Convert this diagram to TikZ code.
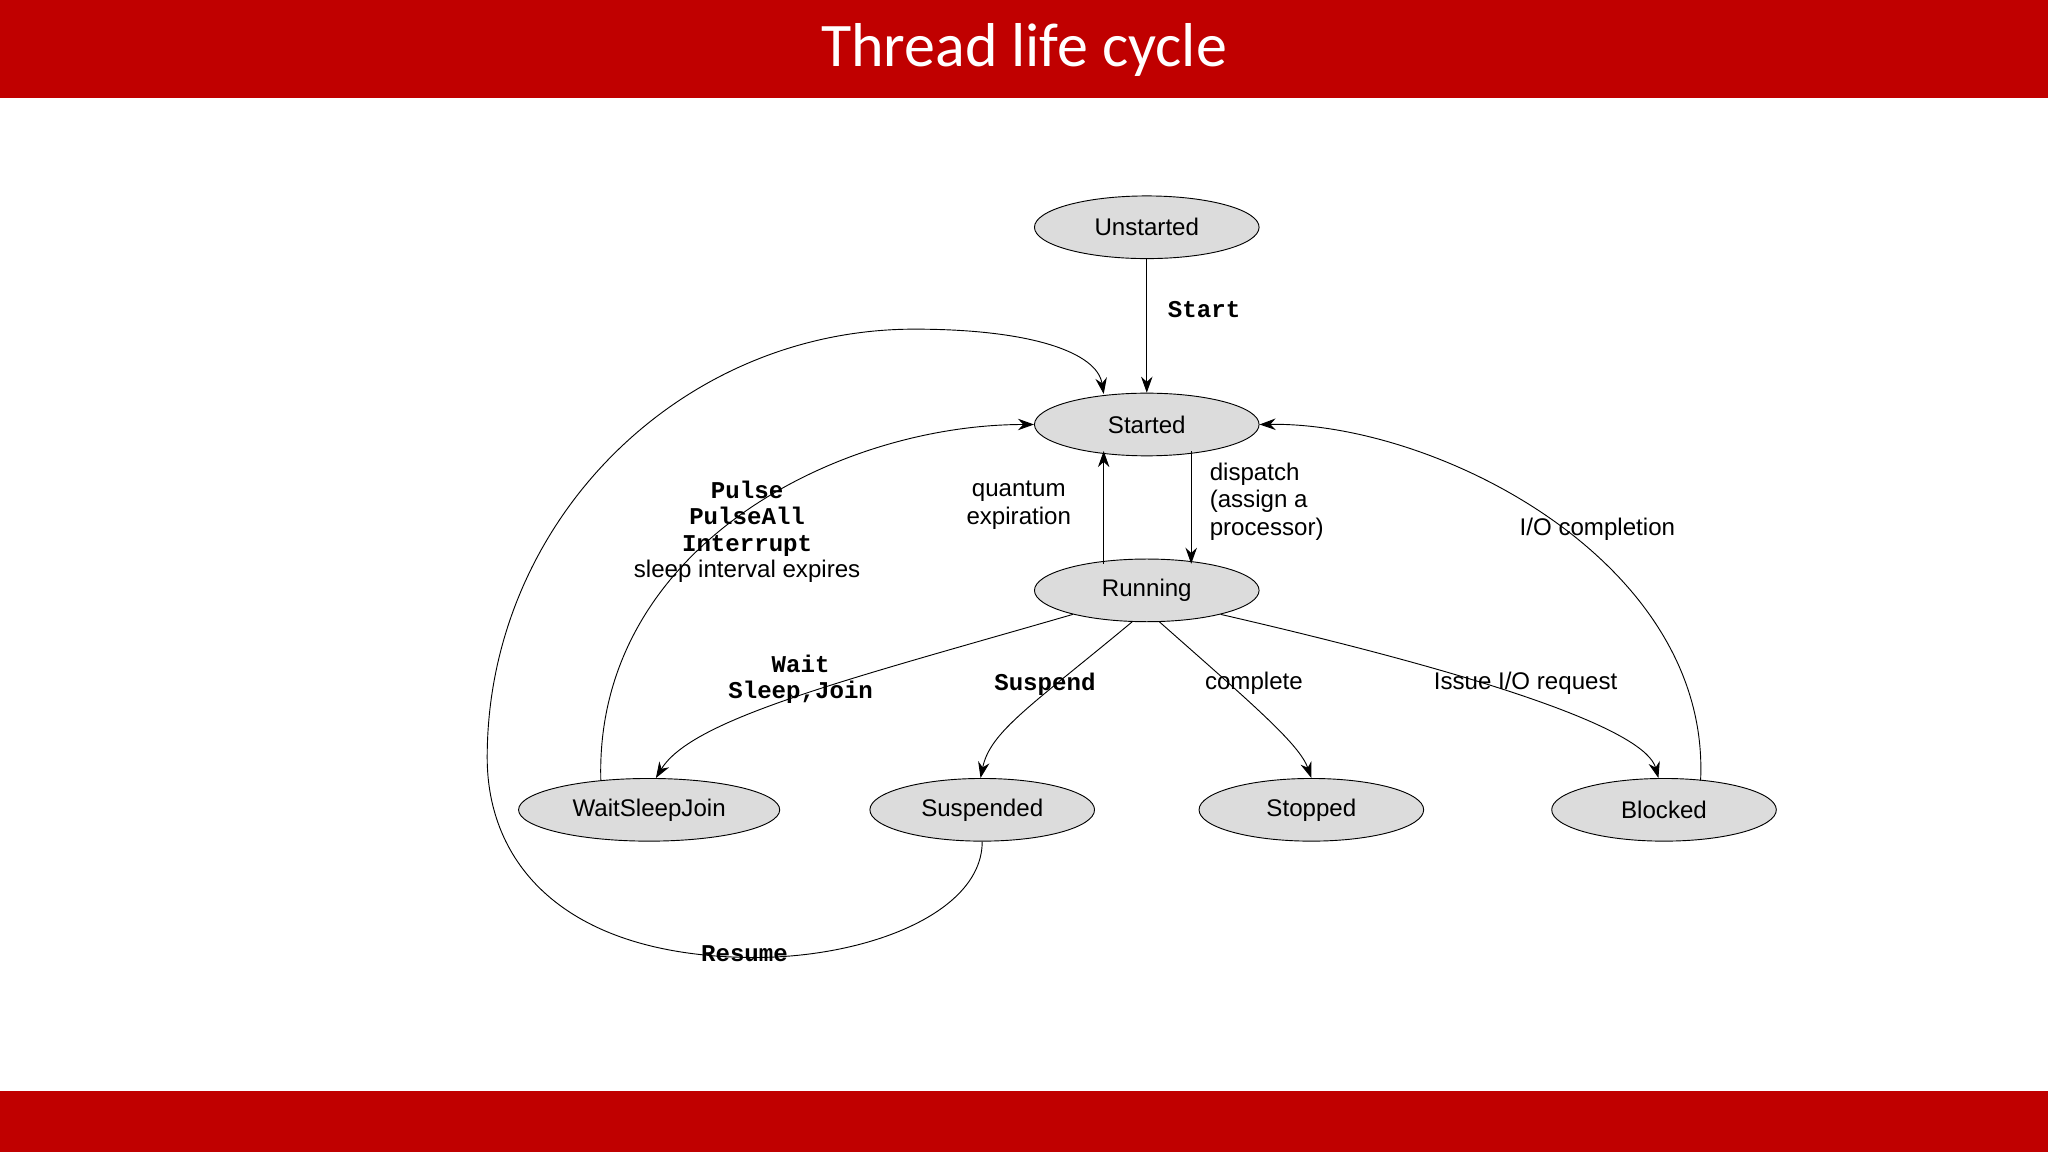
\documentclass[tikz,border=0pt]{standalone}
\usepackage{fontspec}
\setmainfont{Liberation Sans}
\newfontfamily\titlefont{Carlito}
\newfontfamily\monob{Liberation Mono}
\usetikzlibrary{shapes.geometric,arrows.meta,calc}
\definecolor{barred}{HTML}{C00000}
\definecolor{stfill}{HTML}{DCDCDC}
\tikzset{
 st/.style={ellipse,draw,fill=stfill,minimum height=0.96cm,inner sep=0pt,font=\fontsize{10.5}{12}\selectfont},
 arr/.style={-{Stealth[length=7pt,width=5pt]},thin},
 lab/.style={font=\fontsize{10.5}{12}\selectfont,align=center},
 mlab/.style={font=\monob\bfseries\fontsize{10.5}{11.5}\selectfont,align=center}
}
\begin{document}
\begin{tikzpicture}[x=0.02cm,y=-0.02cm]
\useasboundingbox (0,0) rectangle (1568,882);
\fill[barred] (0,0) rectangle (1568,75);
\fill[barred] (0,835) rectangle (1568,882);
\node[text=white,font=\titlefont\fontsize{27}{32}\selectfont] (title) at (784,38) {Thread life cycle};
\node[st,minimum width=3.44cm] (uns) at (878,174) {Unstarted};
\node[st,minimum width=3.44cm] (start) at (878,325) {Started};
\node[st,minimum width=3.44cm] (run) at (878,452) {Running};
\node[st,minimum width=4.0cm] (wsj) at (497,620) {WaitSleepJoin};
\node[st,minimum width=3.44cm] (susp) at (752,620) {Suspended};
\node[st,minimum width=3.44cm] (stop) at (1004,620) {Stopped};
\node[st,minimum width=3.44cm] (blk) at (1274,620) {Blocked};

\draw[arr] (uns) -- (start);
\node[mlab,anchor=west] (lstart) at (888,237) {Start};
\draw[arr] ($(run.north)+(-33,4)$) -- ($(start.south)+(-33,-4)$);
\draw[arr] ($(start.south)+(34,-4)$) -- ($(run.north)+(34,4)$);
\node[lab] (lq) at (780,387) {quantum\\expiration};
\node[lab,align=left,anchor=west] (ld) at (920,384) {dispatch\\(assign a\\processor)};

\draw[arr] (run.198) .. controls (650,520) and (530,550) .. (wsj.78);
\draw[arr] (run.245) .. controls (790,540) and (758,560) .. (susp.93);
\draw[arr] (run.292) .. controls (960,540) and (995,570) .. (stop.90);
\draw[arr] (run.-18) .. controls (1150,520) and (1260,560) .. (blk.100);
\node[mlab] (lw) at (613,520) {Wait\\Sleep,Join};
\node[mlab] (ls) at (800,524) {Suspend};
\node[lab] (lc) at (960,523) {complete};
\node[lab] (li) at (1168,523) {Issue I/O request};

\draw[arr] ($(wsj.north)+(-37,2)$) .. controls (455,420) and (640,325) .. (start.west);
\node[mlab] (lp) at (572,397) {Pulse\\PulseAll\\Interrupt};
\node[lab] (lsi) at (572,437) {sleep interval expires};
\draw[arr] ($(blk.north)+(28,2)$) .. controls (1310,430) and (1100,323) .. (start.east);
\node[lab] (lio) at (1223,405) {I/O completion};

\coordinate (rs) at (570,733);
\draw[arr] (susp.south) .. controls (752,700) and (660,735) .. (rs)
  .. controls (430,730) and (373,660) .. (373,580)
  .. controls (373,400) and (520,252) .. (700,252)
  .. controls (790,252) and (840,270) .. ($(start.north)+(-33,1)$);
\node[mlab] (lr) at (570,730) {Resume};
\end{tikzpicture}
\end{document}
